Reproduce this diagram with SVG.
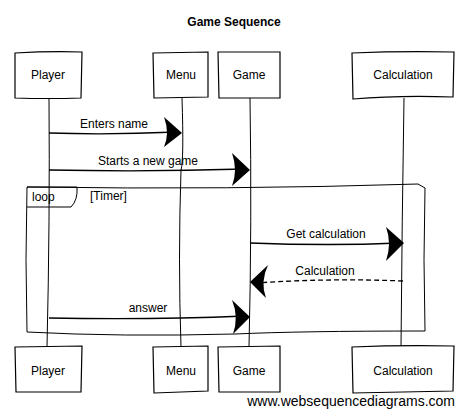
<svg xmlns="http://www.w3.org/2000/svg" width="469" height="417" viewBox="0 0 469 417">
<style>
.box{fill:#fff;stroke:#000;stroke-width:1.2}
.life{fill:none;stroke:#000;stroke-width:1}
.msg{fill:none;stroke:#000;stroke-width:1.3}
.dash{stroke-dasharray:5,3}
.t{font-family:"Liberation Sans",Arial,sans-serif;font-size:12px;fill:#000}
.c{text-anchor:middle}
.ah{fill:#000}
</style>
<rect width="469" height="417" fill="#fff"/>
<text class="t c" x="234" y="26" font-weight="bold" font-size="13">Game Sequence</text>

<g id="lifelines">
<path class="life" d="M49,98 Q50,220 47,347"/>
<path class="life" d="M182,98 Q184,160 181,170 Q178,260 181,347"/>
<path class="life" d="M250,98 Q252,220 249,347"/>
<path class="life" d="M404,98 Q402,220 401,347"/>
</g>

<g id="loop">
<path class="life" d="M27,187 Q230,190 418,184 L425,188 Q423,260 425,331 Q300,331 235,334 Q120,337 27,332 Q25,260 27,187 Z"/>
<path class="life" d="M27,187 L77,187 Q78,200 71,207 L27,207"/>
<text class="t" x="32" y="201">loop</text>
<text class="t" x="90" y="200">[Timer]</text>
</g>

<g id="connectors">
<path class="msg" d="M49,133 Q110,135 177,132"/>
<path class="ah" d="M164,117 L182,133 L164,147 Q170,133 164,117 Z"/>
<text class="t c" x="114" y="128">Enters name</text>

<path class="msg" d="M49,170 Q150,172 245,169"/>
<path class="ah" d="M232,153 L250,170 L232,186 Q238,170 232,153 Z"/>
<text class="t c" x="148" y="165">Starts a new game</text>

<path class="msg" d="M250,243 Q330,246 399,243"/>
<path class="ah" d="M386,227 L404,243 L386,261 Q392,243 386,227 Z"/>
<text class="t c" x="326" y="238">Get calculation</text>

<path class="msg dash" d="M403,281 Q330,278 255,283"/>
<path class="ah" d="M268,265 L250,282 L266,298 Q260,282 268,265 Z"/>
<text class="t c" x="325" y="275">Calculation</text>

<path class="msg" d="M49,318 Q150,320 245,316"/>
<path class="ah" d="M232,300 L250,317 L233,334 Q239,317 232,300 Z"/>
<text class="t c" x="148" y="312">answer</text>
</g>

<g id="player-top"><path class="box" d="M15,53 Q50,51 82,52 L81,98 Q48,99 15,98 Z"/><text class="t c" x="48" y="79">Player</text></g>
<g id="menu-top"><path class="box" d="M153,53 L208,52 L208,97 L154,98 Z"/><text class="t c" x="181" y="79">Menu</text></g>
<g id="game-top"><path class="box" d="M218,52 L280,52 L280,98 L219,98 Z"/><text class="t c" x="249" y="79">Game</text></g>
<g id="calc-top"><path class="box" d="M352,53 Q400,51 454,52 L453,97 Q400,95 353,99 Z"/><text class="t c" x="403" y="79">Calculation</text></g>

<g id="player-bottom"><path class="box" d="M15,347 L82,346 L81,392 L16,392 Z"/><text class="t c" x="48" y="375">Player</text></g>
<g id="menu-bottom"><path class="box" d="M153,347 L208,346 L208,391 L154,393 Z"/><text class="t c" x="181" y="375">Menu</text></g>
<g id="game-bottom"><path class="box" d="M218,347 L280,346 L280,392 L219,392 Z"/><text class="t c" x="249" y="375">Game</text></g>
<g id="calc-bottom"><path class="box" d="M352,347 Q400,345 454,346 L453,391 L353,393 Z"/><text class="t c" x="403" y="375">Calculation</text></g>

<text x="455" y="406" text-anchor="end" font-family="'Liberation Sans',Arial,sans-serif" font-size="14" fill="#000">www.websequencediagrams.com</text>
</svg>
